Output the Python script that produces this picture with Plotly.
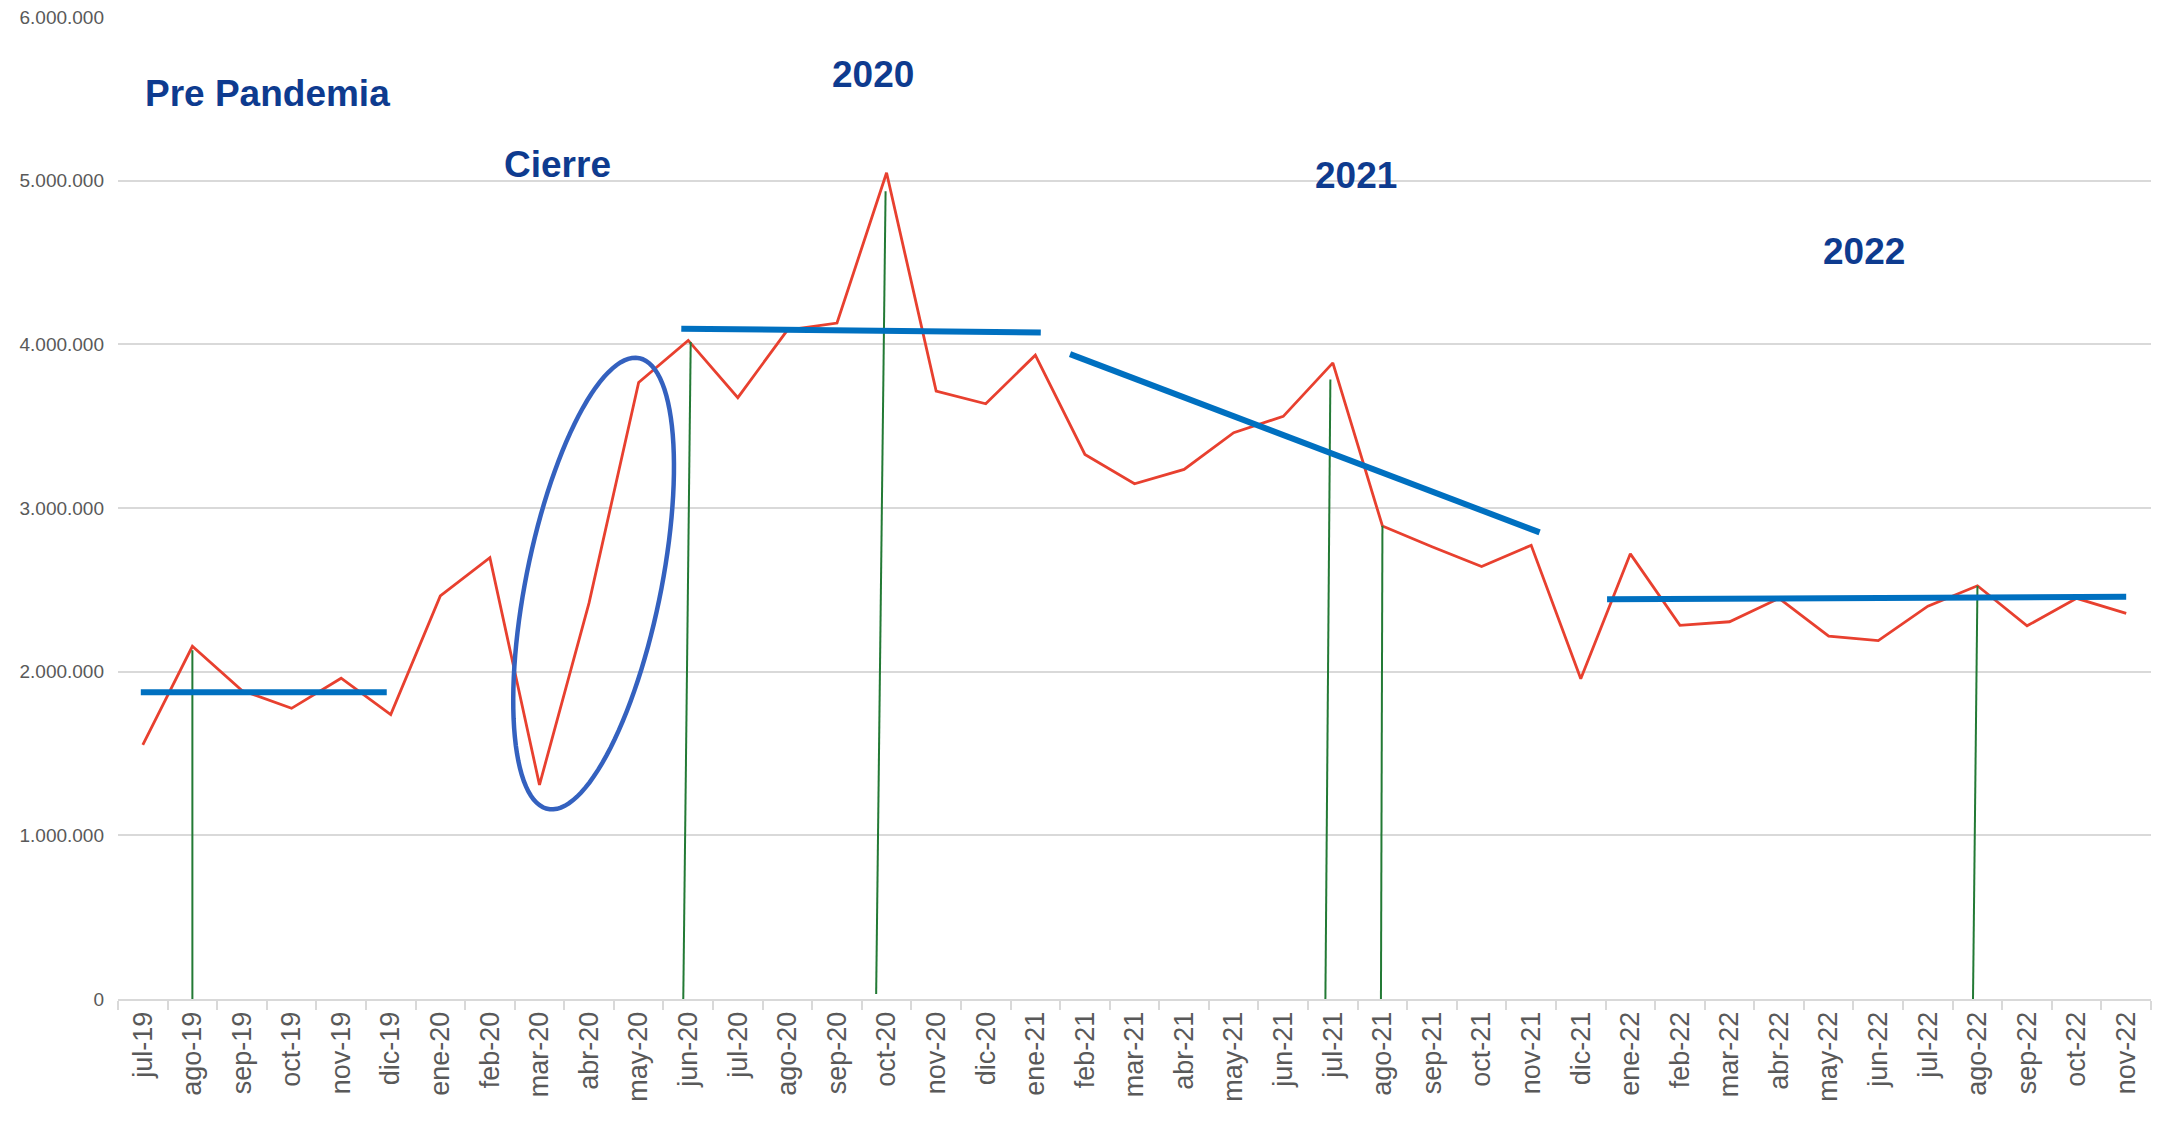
import numpy as np
import plotly.graph_objects as go

# ---------------- data ----------------
months = ["jul-19", "ago-19", "sep-19", "oct-19", "nov-19", "dic-19",
          "ene-20", "feb-20", "mar-20", "abr-20", "may-20", "jun-20",
          "jul-20", "ago-20", "sep-20", "oct-20", "nov-20", "dic-20",
          "ene-21", "feb-21", "mar-21", "abr-21", "may-21", "jun-21",
          "jul-21", "ago-21", "sep-21", "oct-21", "nov-21", "dic-21",
          "ene-22", "feb-22", "mar-22", "abr-22", "may-22", "jun-22",
          "jul-22", "ago-22", "sep-22", "oct-22", "nov-22"]

values = [1553000, 2155000, 1885000, 1776000, 1960000, 1738000,
          2463000, 2696000, 1308000, 2420000, 3767000, 4024000,
          3674000, 4087000, 4130000, 5048000, 3714000, 3637000,
          3934000, 3327000, 3148000, 3236000, 3460000, 3560000,
          3887000, 2890000, 2763000, 2643000, 2772000, 1957000,
          2720000, 2283000, 2305000, 2448000, 2217000, 2190000,
          2400000, 2525000, 2280000, 2448000, 2356000]

y_ticks = [0, 1000000, 2000000, 3000000, 4000000, 5000000, 6000000]

# hand-drawn trend segments: (x0, y0, x1, y1) in category index / value
trend_segments = [(-0.04, 1874000, 4.92, 1874000),
                  (10.86, 4095000, 18.11, 4073000),
                  (18.70, 3940000, 28.17, 2851000),
                  (29.53, 2443000, 40.0, 2457000)]

# hand-drawn green markers: (x_bottom, y_bottom, x_top, y_top)
green_segments = [(1.0, -30000, 1.0, 2131000),
                  (10.90, 0, 11.05, 4015000),
                  (14.79, 30000, 14.98, 4936000),
                  (23.85, 0, 23.95, 3785000),
                  (24.97, -30000, 25.0, 2891000),
                  (36.91, -10000, 37.0, 2523000)]

# text labels: (text, x index, y value, anchor)
labels = [("Pre Pandemia", 0.0, 5535000, "left"),
          ("Cierre", 8.37, 5100000, "center"),
          ("2020", 14.73, 5650000, "center"),
          ("2021", 24.46, 5030000, "center"),
          ("2022", 34.72, 4570000, "center")]

# ---------------- figure ----------------
# page body has an 8px default margin, so the figure is offset by 8px
W, H = 2159, 1110
ML, MR, MT, MB = 110, 16, 9, 119
plot_w = W - ML - MR
plot_h = H - MT - MB
px_per_cat = plot_w / len(months)
px_per_val = plot_h / 6000000

fig = go.Figure()
fig.add_trace(go.Scatter(x=months, y=values, mode="lines",
                         line=dict(color="#E8402F", width=2.8),
                         showlegend=False, hoverinfo="x+y"))

shapes = []
for x0, y0, x1, y1 in green_segments:
    shapes.append(dict(type="line", xref="x", yref="y", x0=x0, y0=y0, x1=x1, y1=y1,
                       line=dict(color="#237A35", width=2)))
for x0, y0, x1, y1 in trend_segments:
    shapes.append(dict(type="line", xref="x", yref="y", x0=x0, y0=y0, x1=x1, y1=y1,
                       line=dict(color="#0070C0", width=6)))

# ellipse around the "Cierre" drop (drawn in pixel space, converted to data)
cx_px, cy_px = 593.6 - 118, 583.6 - 17
a_px, b_px = 230.0, 67.5
ux, uy = 91.3 / 460.0, -450.8 / 460.0
vx, vy = -uy, ux
t = np.linspace(0, 2 * np.pi, 120)
ex = cx_px + a_px * np.cos(t) * ux + b_px * np.sin(t) * vx
ey = cy_px + a_px * np.cos(t) * uy + b_px * np.sin(t) * vy
xi = ex / px_per_cat - 0.5
yv = (plot_h - ey) / px_per_val
path = "M " + " L ".join(f"{a:.4f},{b:.1f}" for a, b in zip(xi, yv)) + " Z"
shapes.append(dict(type="path", xref="x", yref="y", path=path,
                   line=dict(color="#3461BF", width=4.5)))

annotations = []
for text, x, y, anchor in labels:
    annotations.append(dict(text=f"<b>{text}</b>", x=x, y=y, xref="x", yref="y",
                            xanchor=anchor, yanchor="middle", showarrow=False,
                            font=dict(family="Arial, Liberation Sans", size=37, color="#0E3B8F")))

fig.update_layout(
    width=W, height=H,
    margin=dict(l=ML, r=MR, t=MT, b=MB, autoexpand=False),
    paper_bgcolor="white", plot_bgcolor="white",
    separators=",.",
    shapes=shapes,
    annotations=annotations,
    xaxis=dict(type="category", range=[-0.5, len(months) - 0.5], automargin=False,
               tickangle=-90, tickson="boundaries", ticks="outside", ticklen=9,
               tickcolor="#D9D9D9", tickwidth=1.5,
               showline=True, linecolor="#D9D9D9", linewidth=2,
               showgrid=False, zeroline=False, ticklabeloverflow="allow",
               tickfont=dict(family="Arial, Liberation Sans", size=27, color="#595959")),
    yaxis=dict(range=[0, 6000000], tickvals=y_ticks, tickformat=",d", automargin=False,
               showgrid=True, gridcolor="#D9D9D9", gridwidth=1.5,
               zeroline=False, showline=False, ticks="", ticklabelstandoff=13,
               ticklabeloverflow="allow",
               tickfont=dict(family="Arial, Liberation Sans", size=19, color="#595959")),
)

fig.write_html("out.html")
